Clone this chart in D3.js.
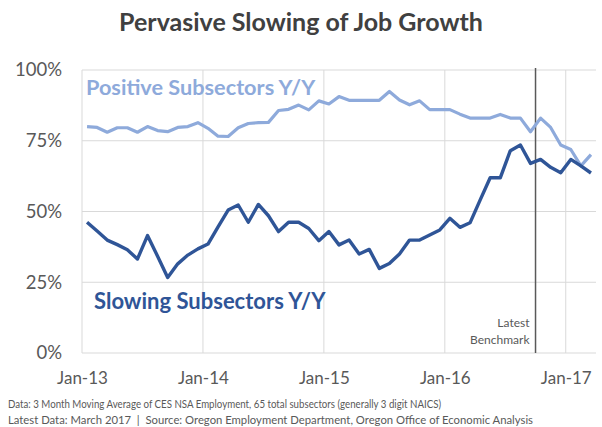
<!DOCTYPE html>
<html>
<head>
<meta charset="utf-8">
<script src="https://cdn.jsdelivr.net/npm/d3@7"></script>
<style>
  html, body { margin: 0; padding: 0; background: #ffffff; }
  svg { display: block; font-family: Lato, "Open Sans", sans-serif; }
  .note { white-space: pre; }
</style>
</head>
<body>
<svg id="chart" width="602" height="427"></svg>
<script>
// Months from Jan-13 through Mar-17 (51 monthly observations)
const months = d3.range(51);

// Share of subsectors with positive year-over-year growth (%)
const positive = [
  80.0, 79.7, 78.0, 79.6, 79.6, 78.0, 80.0, 78.6, 78.2, 79.7, 80.0, 81.4,
  79.4, 76.6, 76.5, 79.6, 81.1, 81.4, 81.5, 85.7, 86.1, 87.6, 85.9, 89.1,
  88.0, 90.6, 89.3, 89.3, 89.3, 89.3, 92.4, 89.4, 87.7, 89.1, 86.0, 86.0,
  86.0, 84.4, 83.0, 83.0, 83.0, 84.3, 83.0, 83.0, 78.2, 83.0, 79.7, 73.5,
  71.9, 66.1, 70.1
];

// Share of subsectors with slowing year-over-year growth (%)
const slowing = [
  46.2, 43.1, 39.9, 38.3, 36.5, 33.2, 41.5, 34.2, 26.7, 31.5, 34.6, 36.8,
  38.5, 44.6, 50.5, 52.3, 46.2, 52.5, 48.5, 42.9, 46.2, 46.2, 44.0, 39.7,
  42.9, 38.2, 39.9, 35.0, 36.6, 29.9, 31.6, 35.0, 39.9, 39.9, 41.7, 43.5,
  47.6, 44.4, 46.0, 54.0, 61.9, 61.9, 71.5, 73.5, 67.0, 68.4, 65.6, 63.7,
  68.4, 66.1, 63.6
];

const yTicks = [0, 25, 50, 75, 100];
const xTickMonths = [0, 12, 24, 36, 48];
const xTickLabels = ["Jan-13", "Jan-14", "Jan-15", "Jan-16", "Jan-17"];
const benchmarkMonth = 45;

const titleText = "Pervasive Slowing of Job Growth";
const positiveLabel = "Positive Subsectors Y/Y";
const slowingLabel = "Slowing Subsectors Y/Y";
const benchmarkLabel = ["Latest", "Benchmark"];
const notes = [
  "Data: 3 Month Moving Average of CES NSA Employment, 65 total subsectors (generally 3 digit NAICS)",
  "Latest Data: March 2017  |  Source: Oregon Employment Department, Oregon Office of Economic Analysis"
];
const noteWidths = [433, 525];

const colors = { positive: "#8eaadb", slowing: "#2f5597", grid: "#d9d9d9", text: "#595959", title: "#404040" };

const svg = d3.select("#chart");
const plot = { left: 82, right: 596, top: 70, bottom: 353 };

// Monthly slots: each observation sits in the middle of its month
const x = d3.scaleLinear().domain([0, months.length]).range([plot.left, plot.right]);
const y = d3.scaleLinear().domain([0, 100]).range([plot.bottom, plot.top]);
const px = i => x(i + 0.5);

// Title
svg.append("text")
  .attr("x", 301).attr("y", 31)
  .attr("text-anchor", "middle")
  .attr("font-size", 25).attr("font-weight", 700)
  .attr("fill", colors.title)
  .text(titleText);

// Horizontal gridlines
svg.append("g").selectAll("line")
  .data(yTicks)
  .join("line")
  .attr("x1", plot.left).attr("x2", plot.right)
  .attr("y1", d => y(d)).attr("y2", d => y(d))
  .attr("stroke", colors.grid).attr("stroke-width", 1);

// Vertical gridlines at year boundaries
svg.append("g").selectAll("line")
  .data(xTickMonths)
  .join("line")
  .attr("x1", d => x(d)).attr("x2", d => x(d))
  .attr("y1", plot.top).attr("y2", plot.bottom)
  .attr("stroke", colors.grid).attr("stroke-width", 1);

// Y axis labels
const yAxis = d3.axisLeft(y).tickValues(yTicks).tickFormat(d => d + "%").tickSize(0).tickPadding(20);
const gy = svg.append("g").attr("transform", `translate(${plot.left},0)`).call(yAxis);
gy.select(".domain").remove();
gy.selectAll("text").attr("font-size", 18.5).attr("fill", colors.text).attr("font-family", "Lato, sans-serif");

// X axis labels
const xAxis = d3.axisBottom(x).tickValues(xTickMonths).tickFormat((d, i) => xTickLabels[i]).tickSize(0).tickPadding(19);
const gx = svg.append("g").attr("transform", `translate(0,${plot.bottom})`).call(xAxis);
gx.select(".domain").remove();
gx.selectAll("text").attr("font-size", 17).attr("fill", colors.text).attr("font-family", "Lato, sans-serif");

// Latest benchmark marker
svg.append("line")
  .attr("x1", x(benchmarkMonth)).attr("x2", x(benchmarkMonth))
  .attr("y1", plot.top - 2).attr("y2", plot.bottom)
  .attr("stroke", "#595959").attr("stroke-width", 1.5);

svg.append("g").selectAll("text")
  .data(benchmarkLabel)
  .join("text")
  .attr("x", x(benchmarkMonth) - 6)
  .attr("y", (d, i) => 327 + i * 17)
  .attr("text-anchor", "end")
  .attr("font-size", 12)
  .attr("fill", colors.text)
  .text(d => d);

// Series lines
const line = values => d3.line().x((d, i) => px(i)).y(d => y(d))(values);

svg.append("path")
  .attr("d", line(positive))
  .attr("fill", "none")
  .attr("stroke", colors.positive).attr("stroke-width", 3.2)
  .attr("stroke-linejoin", "round");

svg.append("path")
  .attr("d", line(slowing))
  .attr("fill", "none")
  .attr("stroke", colors.slowing).attr("stroke-width", 3.4)
  .attr("stroke-linejoin", "round");

// Series labels
svg.append("text")
  .attr("x", 86).attr("y", 95)
  .attr("font-size", 21.7).attr("font-weight", 700)
  .attr("fill", colors.positive)
  .text(positiveLabel);

svg.append("text")
  .attr("x", 94).attr("y", 309)
  .attr("font-size", 22).attr("font-weight", 700)
  .attr("fill", colors.slowing)
  .text(slowingLabel);

// Footnotes
svg.append("g").selectAll("text")
  .data(notes)
  .join("text")
  .attr("class", "note")
  .attr("x", 8)
  .attr("y", (d, i) => 408 + i * 16)
  .attr("font-size", 11)
  .attr("textLength", (d, i) => noteWidths[i])
  .attr("lengthAdjust", "spacingAndGlyphs")
  .attr("fill", colors.text)
  .text(d => d);
</script>
</body>
</html>
